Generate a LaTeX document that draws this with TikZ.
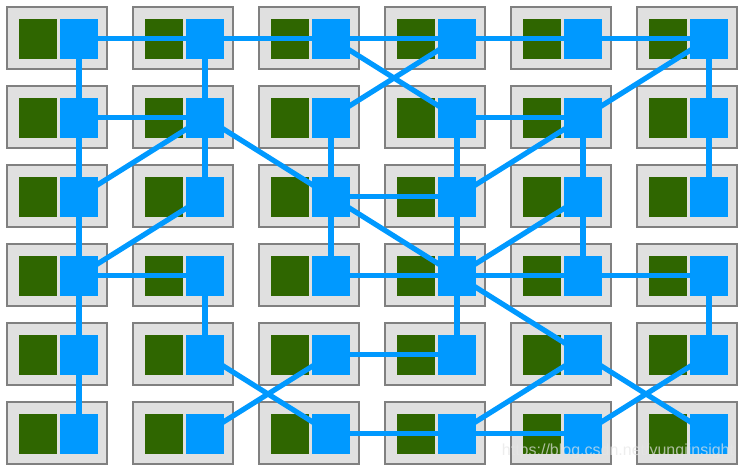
\documentclass[tikz,border=0pt]{standalone}
\usepackage{xcolor}
\usepackage{fontspec}
\setmainfont{Liberation Sans}
\usepackage{tikz}
\usetikzlibrary{positioning}
\definecolor{cellgris}{HTML}{E0E0E0}
\definecolor{bordgris}{HTML}{808080}
\definecolor{vert}{HTML}{2F6600}
\definecolor{bleu}{HTML}{0099FF}
\tikzset{
  cellbox/.style={rectangle, draw=bordgris, line width=1.6pt, fill=cellgris, inner sep=0pt,
                  minimum width=100.4pt, minimum height=62pt},
  coreg/.style={rectangle, fill=vert, inner sep=0pt, outer sep=0pt, minimum width=38pt, minimum height=40pt},
  coreb/.style={rectangle, fill=bleu, inner sep=0pt, outer sep=0pt, minimum width=38pt, minimum height=40pt},
  lien/.style={draw=bleu, line width=5.2pt, shorten >=-3pt, shorten <=-3pt},
}

\begin{document}
\begin{tikzpicture}[x=1pt, y=1pt, node distance=2.8pt]
        \useasboundingbox (0,0) rectangle (743,-469);
        \foreach \cx in {0,...,5} \foreach \ry in {0,...,5} {
          \node[cellbox] (c\cx\ry) at ({57+126*\cx},{-38.25-79*\ry}) {};
          \node[coreb] (b\cx\ry) at ({79+126*\cx},{-38.5-79*\ry}) {};
          \node[coreg, left=of b\cx\ry] (g\cx\ry) {};
        }
        \foreach \na/\nb in {00/10,10/20,20/30,30/40,40/50,
          00/01,10/11,50/51,20/31,30/21,50/41,
          01/11,31/41,
          01/02,11/12,21/22,31/32,41/42,51/52,11/02,11/22,41/32,
          22/32,02/03,22/23,32/33,42/43,12/03,22/33,42/33,
          03/13,23/33,33/43,43/53,
          03/04,13/14,33/34,53/54,33/44,
          24/34,04/05,14/25,24/15,44/35,44/55,54/45,
          25/35,35/45}
          \draw[lien] (b\na) -- (b\nb);
        \node[font=\fontsize{16}{18}\selectfont, text=black!10, opacity=0.7, inner sep=0pt] (wm) at (618,-451)
          {https://blog.csdn.net/yunqiinsight};
      \end{tikzpicture}
\end{document}
